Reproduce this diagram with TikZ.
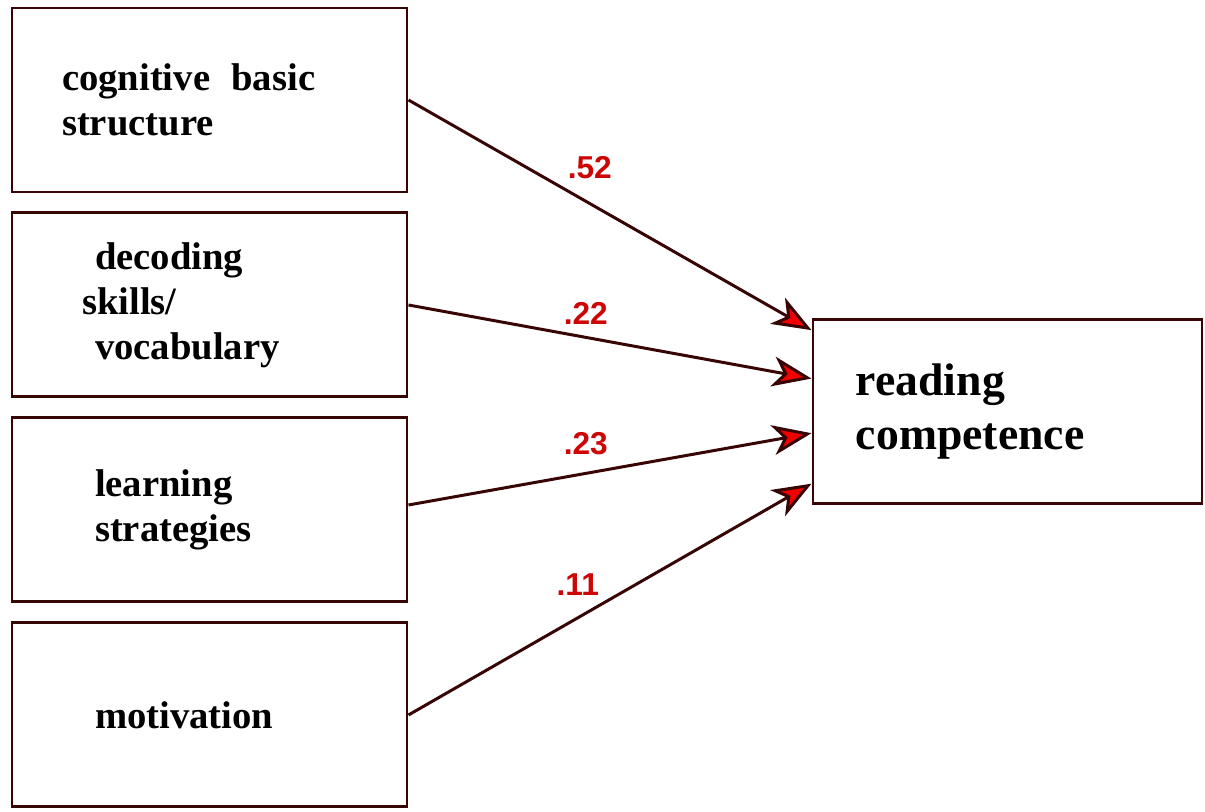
\documentclass[tikz,border=0pt]{standalone}
\usepackage{fontspec}
\setmainfont{Liberation Serif}
\newfontfamily\weightfont{Liberation Sans}
\usetikzlibrary{positioning,arrows.meta,calc}

\definecolor{framecol}{rgb}{0.22,0.02,0.02}
\definecolor{tipred}{rgb}{0.95,0.0,0.0}
\definecolor{weightred}{rgb}{0.80,0.02,0.02}

\tikzset{
  factor/.style={draw=framecol, line width=1.7pt, rectangle,
    minimum width=7.9cm, minimum height=3.68cm, align=left,
    inner xsep=1.66cm, text width=4.58cm,
    font=\fontsize{22}{25.6}\selectfont\bfseries},
  link/.style={draw=framecol, line width=1.7pt,
    -{Stealth[length=0.78cm, width=0.6cm, inset=0.22cm, fill=tipred]}},
  weight/.style={inner sep=0pt, text=weightred,
    font=\weightfont\bfseries\fontsize{18}{18}\selectfont}
}

\begin{document}
\begin{tikzpicture}

\useasboundingbox (0,0) rectangle (24.1,-16.22);

    % predictors
    \node[factor, inner xsep=1.0cm, text width=5.9cm] (cog) at (4.19,-2.0) {cognitive\hspace{0.55em}basic\\structure};
    \node[factor] (dec) [below=0.36cm of cog] {decoding\\\hspace*{-0.26cm}skills/\\vocabulary};
    \node[factor] (lrn) [below=0.36cm of dec] {learning\\strategies};
    \node[factor] (mot) [below=0.36cm of lrn] {motivation};

    % outcome
    \node[factor, minimum width=7.78cm, inner xsep=0.86cm, text width=6.06cm,
      font=\fontsize{26}{31}\selectfont\bfseries] (rc) [right=8.06cm of dec, yshift=-2.13cm] {reading\\competence};

    \coordinate (in1) at ($(rc.north west)!0.065!(rc.south west)$);
    \coordinate (in2) at ($(rc.north west)!0.324!(rc.south west)$);
    \coordinate (in3) at ($(rc.north west)!0.616!(rc.south west)$);
    \coordinate (in4) at ($(rc.north west)!0.886!(rc.south west)$);

    \draw[link] (cog.east) -- node[weight, pos=0.45, above=0.46cm] (w1) {.52} (in1);
    \draw[link] (dec.east) -- node[weight, pos=0.44, above=0.22cm] (w2) {.22} (in2);
    \draw[link] ([yshift=0.1cm]lrn.east) -- node[weight, pos=0.44, above=0.34cm] (w3) {.23} (in3);
    \draw[link] (mot.east) -- node[weight, pos=0.42, above=0.42cm] (w4) {.11} (in4);

\end{tikzpicture}
\end{document}
